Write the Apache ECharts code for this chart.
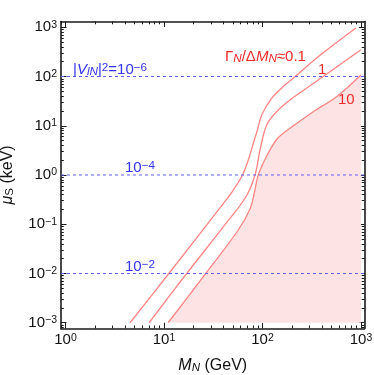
<!DOCTYPE html>
<html>
<head>
<meta charset="utf-8">
<script src="https://cdn.jsdelivr.net/npm/echarts@6/dist/echarts.min.js"></script>
<style>
  html, body { margin: 0; padding: 0; background: #fff; }
  #chart { width: 374px; height: 375px; }
</style>
</head>
<body>
<div id="chart"></div>
<script>
  // contours of Gamma_N / Delta M_N : M_N (GeV) vs mu_S (keV)
  const ratio01M = [4.52, 11.2, 42.6, 50.6, 62.7, 71.8, 80.7, 88.9, 98.2, 123.9, 169, 213.8, 384, 889];
  const ratio01Mu = [0.001, 0.01, 0.31, 0.495, 1.0, 2.02, 4.4, 8.2, 16.5, 36.1, 67.1, 99, 269, 966];
  const ratio1M = [7.05, 17.0, 42.6, 67.9, 84.0, 94.4, 110.4, 139.3, 190.1, 259.4, 414, 1000];
  const ratio1Mu = [0.001, 0.01, 0.104, 0.362, 1.0, 3.22, 10.4, 19.3, 33.3, 51.8, 100, 350];
  const ratio10M = [11.0, 26.5, 56.8, 75.5, 83.0, 90.6, 110.4, 141.9, 190.1, 328, 566, 1000];
  const ratio10Mu = [0.001, 0.01, 0.0764, 0.214, 0.452, 1.0, 2.43, 5.51, 8.87, 19.3, 38.9, 107];
  // |V_lN|^2 = 1e-6, 1e-4, 1e-2 levels (mu_S in keV)
  const mixingMu = [100, 1, 0.01];
  // decade exponents for the tick labels
  const xTickExp = [0, 1, 2, 3];
  const yTickExp = [-3, -2, -1, 0, 1, 2, 3];

  const font = '"Liberation Sans", Arial, sans-serif';
  const frameColor = '#1a1a1a';
  const lineColor = '#ff8585';
  const fillColor = '#fde3e3';
  const dashColor = '#5f5fff';
  const blue = '#3434f2';
  const red = '#f02a2a';

  // axis range in log10 units (frame has a little padding)
  const xMin = -0.046, xMax = 3.036;
  const yMin = -3.113, yMax = 3.117;

  const toLog = (xs, ys) => xs.map((m, i) => [Math.log10(m), Math.log10(ys[i])]);

  const minorTicks = (lo, hi) => {
    const out = [];
    for (let n = Math.floor(lo) - 1; n <= Math.ceil(hi); n++) {
      for (let k = 2; k <= 9; k++) {
        const v = n + Math.log10(k);
        if (v > lo && v < hi) out.push(v);
      }
    }
    return out;
  };

  const richText = (color, size, small) => ({
    t: { fontSize: size, fontFamily: font, color: color, fill: color, lineHeight: 16 },
    i: { fontSize: size, fontFamily: font, fontStyle: 'italic', color: color, fill: color, lineHeight: 16 },
    sup: { fontSize: size * small, fontFamily: font, color: color, fill: color, lineHeight: 6, verticalAlign: 'top' },
    sub: { fontSize: size * small, fontFamily: font, fontStyle: 'italic', color: color, fill: color, lineHeight: 11, verticalAlign: 'bottom' },
    subr: { fontSize: size * small, fontFamily: font, color: color, fill: color, lineHeight: 11, verticalAlign: 'bottom' }
  });

  const expLabel = v => {
    const e = Math.round(v);
    return '{t|10}{sup|' + (e < 0 ? '\u2212' + (-e) : e) + '}';
  };

  function frameAxis(position, min, max, majors, isMinor, withLabels) {
    return {
      type: 'value',
      position: position,
      min: min,
      max: max,
      axisLine: { show: !isMinor, onZero: false, lineStyle: { color: frameColor, width: 1.6 } },
      axisTick: {
        show: true,
        inside: true,
        length: isMinor ? 2.8 : 5.5,
        customValues: isMinor ? minorTicks(min, max) : majors,
        lineStyle: { color: frameColor, width: 1 }
      },
      axisLabel: {
        show: !!withLabels,
        customValues: majors,
        formatter: expLabel,
        margin: 4,
        rich: richText('#111', 15, 0.7)
      },
      splitLine: { show: false }
    };
  }

  const chart = echarts.init(document.getElementById('chart'), null, { renderer: 'canvas' });

  const xAxes = [
    frameAxis('bottom', xMin, xMax, xTickExp, false, true),
    frameAxis('bottom', xMin, xMax, xTickExp, true, false),
    frameAxis('top', xMin, xMax, xTickExp, false, false),
    frameAxis('top', xMin, xMax, xTickExp, true, false)
  ];
  xAxes[0].name = '{i|M}{sub|N}{t| (GeV)}';
  xAxes[0].nameLocation = 'middle';
  xAxes[0].nameGap = 29;
  xAxes[0].nameTextStyle = { rich: richText('#111', 16, 0.72) };

  const yAxes = [
    frameAxis('left', yMin, yMax, yTickExp, false, true),
    frameAxis('left', yMin, yMax, yTickExp, true, false),
    frameAxis('right', yMin, yMax, yTickExp, false, false),
    frameAxis('right', yMin, yMax, yTickExp, true, false)
  ];
  yAxes[0].name = '{i|\u03bc}{subr|S}{t| (keV)}';
  yAxes[0].nameLocation = 'middle';
  yAxes[0].nameGap = 45;
  yAxes[0].nameRotate = 90;
  yAxes[0].nameTextStyle = { rich: richText('#111', 16, 0.72) };

  const curve = (name, xs, ys, extra) => Object.assign({
    name: name,
    type: 'line',
    xAxisIndex: 0,
    yAxisIndex: 0,
    data: toLog(xs, ys),
    showSymbol: false,
    smooth: 0.35,
    silent: true,
    lineStyle: { color: lineColor, width: 1.3 },
    z: 3
  }, extra || {});

  // horizontal |V_lN|^2 reference lines across the whole frame
  const levelLines = mixingMu.map(mu => ({
    type: 'line',
    xAxisIndex: 0,
    yAxisIndex: 0,
    data: [[xMin, Math.log10(mu)], [xMax, Math.log10(mu)]],
    showSymbol: false,
    silent: true,
    clip: false,
    lineStyle: { color: dashColor, width: 1, type: [3, 3] },
    z: 4
  }));

  const note = (x, y, text, color) => ({
    type: 'text',
    x: x,
    y: y,
    z: 10,
    style: {
      text: text,
      fill: color,
      font: '15px ' + font,
      align: 'left',
      verticalAlign: 'middle',
      rich: richText(color, 15, 0.78)
    }
  });

  chart.setOption({
    animation: false,
    backgroundColor: '#fff',
    grid: { left: 61, right: 9.5, top: 21.5, bottom: 46.7, containLabel: false, outerBoundsMode: 'none' },
    xAxis: xAxes,
    yAxis: yAxes,
    series: [
      curve('10', ratio10M, ratio10Mu, {
        areaStyle: { color: fillColor, opacity: 1, origin: -3 },
        z: 2
      }),
      curve('1', ratio1M, ratio1Mu),
      curve('0.1', ratio01M, ratio01Mu)
    ].concat(levelLines),
    graphic: [
      note(73, 70, '{t||}{i|V}{sub|lN}{t||}{sup|2}{t|=10}{sup|\u22126}', blue),
      note(125, 168, '{t|10}{sup|\u22124}', blue),
      note(125, 267, '{t|10}{sup|\u22122}', blue),
      note(225, 57, '{t|\u0393}{sub|N}{t|/\u0394}{i|M}{sub|N}{t|\u22480.1}', red),
      note(318, 70, '{t|1}', red),
      note(338, 100, '{t|10}', red)
    ]
  });
</script>
</body>
</html>
